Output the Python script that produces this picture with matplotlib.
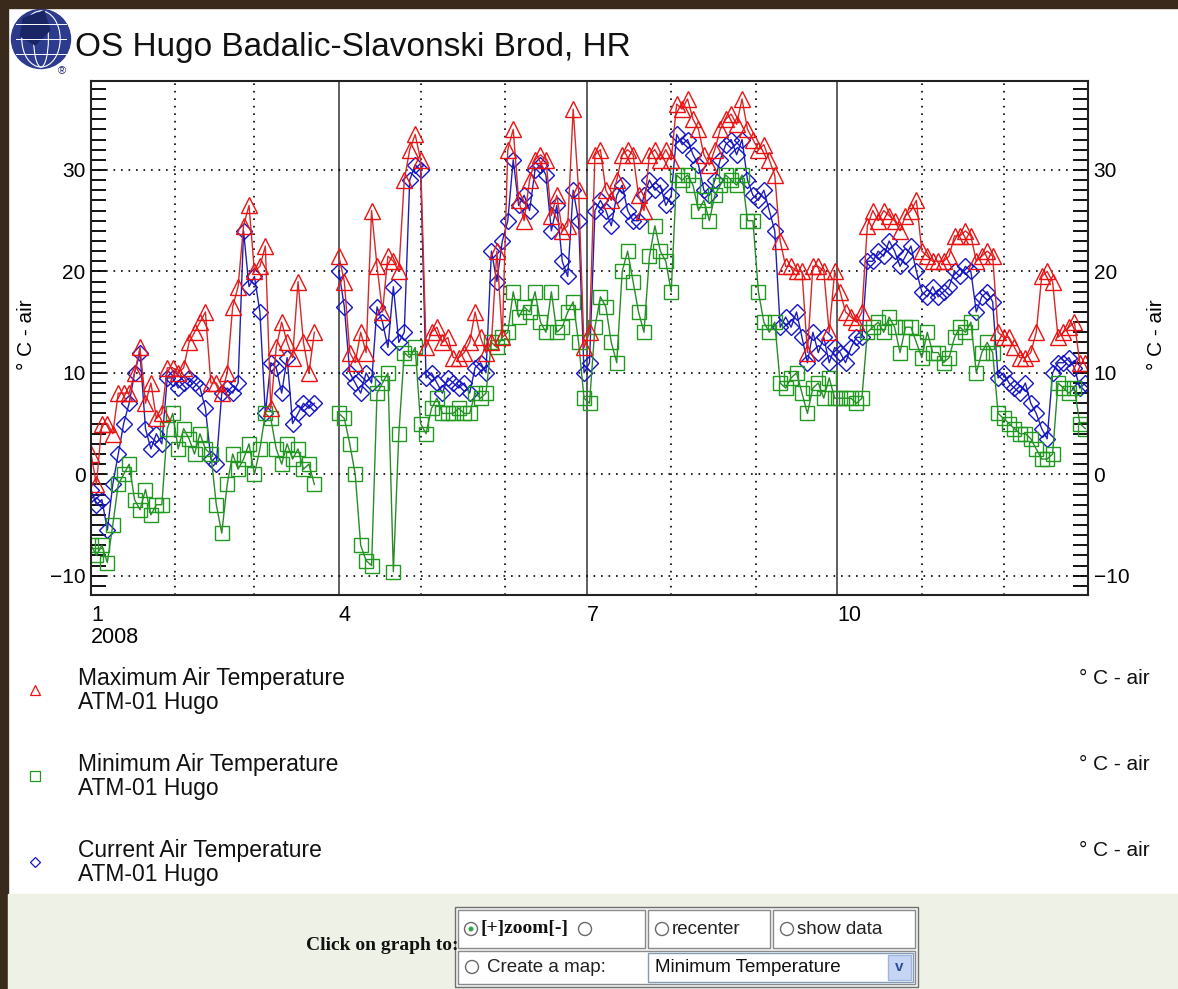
import numpy as np
import matplotlib
matplotlib.use("Agg")
import matplotlib.pyplot as plt
from matplotlib.patches import Rectangle, Circle, Ellipse, Polygon
from matplotlib.ticker import MultipleLocator

W, H = 1178, 989

# day of year 2008 (0 = 1 Jan), one reading every second day, no data end of March
days_q1 = list(range(0, 83, 2))
days_rest = list(range(91, 366, 2))

tmax_q1 = [2, -1, 5, 5, 4, 8, 8, 8, 10, 12.5, 7, 9, 5.5, 6, 10.5, 10.5, 10, 10.5, 13, 14,
           15, 16, 9, 9, 8, 10, 16.5, 18.5, 24.5, 26.5, 20, 20.5, 22.5, 6.5, 12.5, 15, 13, 11.5,
           19, 13, 10, 14]
tmin_q1 = [-7, -8, -7, -8.7, -5, -1, 0, 1, -2.5, -3.5, -1.5, -4, -3, -3, 4.5, 6, 2.5, 4.5,
           3.5, 2, 4, 2.5, 2, -3, -5.8, -1, 2, 0.5, 1.5, 3, 0, 2.5, 6, 5.5, 2.5, 1, 3, 1.5,
           2.5, 0.5, 1, -1]
tcur_q1 = [-1.5, -3, -2.5, -5.5, -1, 2, 5, 7, 10, 12, 4.5, 2.5, 4, 3, 9.5, 9.5, 8.5, 9, 9.5,
           9, 8.5, 6.5, 1.5, 1, 8, 8.5, 8, 9, 24, 18.5, 19.5, 16, 6, 11, 10.5, 8, 11.5, 5, 6,
           7, 6.5, 7]

tmax_rest = [21.5, 19, 12, 11, 14, 12, 26, 20.5, 16, 21.5, 21, 20, 29, 32, 33.5,
             31, 12.5, 14, 14.5, 13, 13.5, 11.5, 11.5, 12, 13, 16, 13.5, 12, 13, 22, 13.5,
             32, 34, 27, 25, 29, 31, 31.5, 31, 25.5, 27.5, 24, 24.5, 36, 28, 12.5, 14, 31.5,
             32, 28, 27, 29, 31.5, 32, 31.5, 27.5, 26, 31.5, 32, 31, 32, 31,
             36.5, 36, 37, 35, 34, 31.5, 30.5, 32, 34, 35, 35.5, 34.5, 37, 34, 33, 32, 32.5,
             31, 29.5, 23, 20.5,
             20.5, 20, 20, 12, 20.5, 20.5, 20, 14, 20, 18, 16, 15.5, 15, 16, 24.5, 26, 25,
             26, 25.5, 25, 24, 25.5, 26, 27, 22, 21.5, 21, 21, 21, 21.5, 23.5, 23.5, 24, 23.5,
             21, 21.5, 22, 21.5, 14, 13.5, 13.5, 12.5, 11.5, 11.5, 12, 14, 19.5, 20, 19, 13.5,
             14, 14.5, 15, 11, 11]
tmin_rest = [6, 5.5, 3, 0, -7, -8.5, -9, 8, 9, 10, -9.6, 4, 12, 11.5, 12.5,
             5, 4, 6.5, 7.5, 6, 6, 6, 6.5, 6, 6, 8, 7.5, 8, 13, 12.5, 13.5, 14, 18, 15.5,
             16.5, 16, 18, 15, 14, 18, 14, 14.5, 16, 17, 13, 7.5, 7, 14.5, 17.5, 16.5, 13, 11,
             20, 22, 19, 16, 14, 21.5, 24.5, 22, 21, 18,
             29.5, 29, 29.5, 28.5, 26, 27, 25, 27.5, 28.5, 29.5, 29, 28.5, 29.5, 25, 25, 18,
             15, 14, 15, 9, 8.5,
             9.5, 10, 8, 6, 8.5, 9, 7.5, 9.5, 7.5, 7.5, 7.5, 7.5, 7, 7.5, 14, 14.5, 15, 14,
             15.5, 14.5, 12, 14.5, 14.5, 13, 11.5, 14, 12, 12, 11, 11.5, 13.5, 14.5, 14, 15,
             10, 12, 13, 12, 6, 5.5, 5, 4.5, 4, 4, 3.5, 2.5, 1.5, 1.5, 2, 9, 8.5, 8, 8.5, 5,
             4.5]
tcur_rest = [20, 16.5, 10, 9, 8, 10, 9, 16.5, 15, 12.5, 18.5, 13, 14, 29, 30.5,
             30, 9.5, 10, 9, 8, 9.5, 9, 8.5, 9, 8, 10.5, 11, 10, 22, 19, 23, 25, 31, 26.5,
             27.5, 26, 30, 30.5, 29.5, 24, 26.5, 21, 19.5, 28, 25, 10, 11, 26, 27, 26, 24.5,
             27.5, 28.5, 26, 25, 25, 27.5, 29, 28, 28.5, 26.5, 27.5,
             33.5, 32.5, 33, 31.5, 30.5, 28, 27.5, 29, 31, 32.5, 33, 31.5, 33, 29, 27.5, 27,
             28, 26, 24, 14.5, 15.5,
             14.5, 16, 13.5, 11, 14, 12, 13.5, 11, 12.5, 12, 11, 12.5, 13.5, 13.5, 21, 21, 22,
             21.5, 23, 22, 20.5, 21.5, 22.5, 20, 18, 17.5, 18.5, 17.5, 18, 18.5, 20, 19.5,
             20.5, 20, 16, 17.5, 18, 17, 9.5, 10, 9, 8.5, 8, 9, 7, 6, 4.5, 3.5, 10, 11, 11,
             11.5, 10.5, 8.5, 9]

month_starts = [0, 31, 60, 91, 121, 152, 182, 213, 244, 274, 305, 335]
quarter_labels = ['1\n2008', '4', '7', '10']
series_names = ['Maximum Air Temperature', 'Minimum Air Temperature', 'Current Air Temperature']
station = 'ATM-01 Hugo'
unit = '° C - air'

FONT = 'Liberation Sans'
RED, GREEN, BLUE = '#ee1111', '#1f9a1f', '#1515c8'


def fx(x):
    return x / W


def fy(y):
    return 1 - y / H


def join(a, b):
    return np.array(a + [np.nan] + b, dtype=float)


days = join(days_q1, days_rest)
tmax = join(tmax_q1, tmax_rest)
tmin = join(tmin_q1, tmin_rest)
tcur = join(tcur_q1, tcur_rest)

fig = plt.figure(figsize=(W / 100, H / 100), dpi=100)
fig.patch.set_facecolor('white')

# page frame and control panel background
fig.patches.append(Rectangle((0, fy(H)), fx(8), 1, transform=fig.transFigure,
                             color='#3a2a1b', zorder=0))
fig.patches.append(Rectangle((0, fy(8)), 1, 8 / H, transform=fig.transFigure,
                             color='#3a2a1b', zorder=0))
fig.patches.append(Rectangle((fx(8), fy(H)), 1, (H - 894) / H, transform=fig.transFigure,
                             color='#eef2e6', zorder=0))

# logo
lax = fig.add_axes([fx(10), fy(70), fx(62), 62 / H])
lax.set_xlim(-1.05, 1.05)
lax.set_ylim(-1.05, 1.05)
lax.set_aspect('equal')
lax.axis('off')
lax.add_patch(Circle((0, 0), 1, color='#2c3b8e'))
for w in [0.5, 1.3]:
    lax.add_patch(Ellipse((0, 0), w, 1.9, fill=False, ec='white', lw=0.8))
for yy in [-0.5, 0, 0.5]:
    lax.plot([-0.85, 0.85], [yy, yy], color='white', lw=0.7)
lax.add_patch(Polygon([[-0.6, 0.7], [0.1, 0.95], [0.3, 0.3], [-0.2, -0.2], [-0.7, 0.1]],
                      color='#1a2566'))
fig.text(fx(58), fy(74), '®', fontsize=8, family=FONT, color='#1a2566')

fig.text(fx(75), fy(56), 'OS Hugo Badalic-Slavonski Brod, HR', fontsize=24, family=FONT,
         color='#111111', va='baseline')

# main plot
ax = fig.add_axes([fx(91), fy(595), fx(1088 - 91), (595 - 80.7) / H])
ax.set_xlim(0, 366)
ax.set_ylim(-11.9, 38.8)

styles = [(tcur, BLUE, '#2020b0', 'D', 8),
          (tmin, GREEN, '#2a8a2a', 's', 10),
          (tmax, RED, '#d82828', '^', 11)]
for vals, mc, lc, mk, ms in styles:
    ax.plot(days, vals, color=lc, lw=1.0, marker=mk, ms=ms, mfc='none', mec=mc, mew=1.0)

ax.set_xticks(month_starts[::3])
ax.set_xticks([d for i, d in enumerate(month_starts) if i % 3], minor=True)
ax.set_xticklabels(quarter_labels, ha='left', fontsize=15.5, family=FONT, linespacing=1.05)
ax.xaxis.grid(True, which='major', color='#333333', ls='-', lw=1.1)
ax.xaxis.grid(True, which='minor', color='black', ls=(0, (1, 3.5)), lw=1.2)
ax.set_yticks([-10, 0, 10, 20, 30])
ax.yaxis.set_minor_locator(MultipleLocator(1))
ax.yaxis.grid(True, which='major', color='black', ls=(0, (1, 3.5)), lw=1.2)
ax.set_axisbelow(True)
ax.tick_params(axis='x', which='both', length=0, pad=7)
ax.tick_params(axis='y', which='both', direction='in', length=11, width=1.3,
               left=True, right=True, labelleft=True, labelright=True, labelsize=15, pad=4)
for lab in ax.get_yticklabels():
    lab.set_family(FONT)
for s in ax.spines.values():
    s.set_linewidth(1.5)
    s.set_color('#222222')

fig.text(fx(27), fy(335), unit, rotation=90, fontsize=15, family=FONT, ha='center', va='center')
fig.text(fx(1157), fy(335), unit, rotation=90, fontsize=15, family=FONT, ha='center', va='center')

# legend
leg_y = [690, 776, 862]
leg_marks = [('^', RED, 7.5), ('s', GREEN, 7), ('D', BLUE, 5.5)]
for yy, name, (mk, mc, ms) in zip(leg_y, series_names, leg_marks):
    fig.lines.append(plt.Line2D([fx(35)], [fy(yy)], transform=fig.transFigure, marker=mk,
                                ms=ms, mfc='none', mec=mc, mew=0.9, ls='none'))
    fig.text(fx(78), fy(yy - 12), name, fontsize=16.5, family=FONT, va='center', color='#111111')
    fig.text(fx(78), fy(yy + 13), station, fontsize=16.5, family=FONT, va='center', color='#111111')
    fig.text(fx(1150), fy(yy - 12), unit, fontsize=15, family=FONT, va='center', ha='right',
             color='#111111')


# control panel
def box(x0, y0, x1, y1, fc='white', ec='#8a8a8a', lw=1.0):
    fig.patches.append(Rectangle((fx(x0), fy(y1)), fx(x1 - x0), (y1 - y0) / H,
                                 transform=fig.transFigure, fc=fc, ec=ec, lw=lw, zorder=1))


def radio(x, y, checked=False):
    fig.patches.append(Ellipse((fx(x), fy(y)), fx(13), 13 / H, transform=fig.transFigure,
                               fc='white', ec='#6a6a6a', lw=1.0, zorder=2))
    if checked:
        fig.patches.append(Ellipse((fx(x), fy(y)), fx(5), 5 / H, transform=fig.transFigure,
                                   fc='#2ea84a', ec='none', zorder=3))


fig.text(fx(458), fy(946), 'Click on graph to:', fontsize=14, weight='bold',
         family='Liberation Serif', ha='right', va='center', color='#111111')
box(455, 907, 918, 987, fc='#f4f4f4', ec='#707070')
box(458, 910, 645, 948)
box(648, 910, 770, 948)
box(773, 910, 915, 948)
box(458, 951, 915, 984)
box(648, 953, 913, 982, ec='#7f9db9')
box(888, 955, 911, 980, fc='#c5d5f3', ec='#9fb5de')
fig.text(fx(899.5), fy(967), 'v', fontsize=11, weight='bold', family=FONT, ha='center',
         va='center', color='#2d4f9a')

radio(471, 929, checked=True)
fig.text(fx(481), fy(929), '[+]zoom[-]', fontsize=14, weight='bold', family='Liberation Serif',
         va='center', color='#111111')
radio(585, 929)
radio(662, 929)
fig.text(fx(672), fy(929), 'recenter', fontsize=13.5, family=FONT, va='center', color='#222222')
radio(787, 929)
fig.text(fx(797), fy(929), 'show data', fontsize=13.5, family=FONT, va='center', color='#222222')
radio(472, 967)
fig.text(fx(487), fy(967), 'Create a map:', fontsize=13.5, family=FONT, va='center',
         color='#222222')
fig.text(fx(655), fy(967), 'Minimum Temperature', fontsize=13.5, family=FONT, va='center',
         color='#111111')

fig.savefig('out.png', dpi=100, facecolor=fig.get_facecolor())
